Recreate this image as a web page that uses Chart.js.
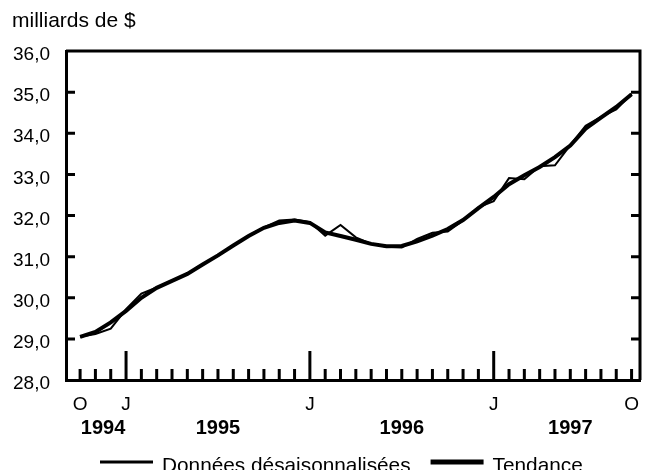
<!DOCTYPE html>
<html>
<head>
<meta charset="utf-8">
<script src="https://cdn.jsdelivr.net/npm/chart.js@4/dist/chart.umd.min.js"></script>
<style>
  html, body { margin: 0; padding: 0; background: #fff; }
  #wrap { width: 645px; height: 470px; }
</style>
</head>
<body>
<div id="wrap"><canvas id="chart" width="645" height="470"></canvas></div>
<script>
// Monthly points, Oct 1994 to Oct 1997
const months = [
  '1994-10','1994-11','1994-12',
  '1995-01','1995-02','1995-03','1995-04','1995-05','1995-06','1995-07','1995-08','1995-09','1995-10','1995-11','1995-12',
  '1996-01','1996-02','1996-03','1996-04','1996-05','1996-06','1996-07','1996-08','1996-09','1996-10','1996-11','1996-12',
  '1997-01','1997-02','1997-03','1997-04','1997-05','1997-06','1997-07','1997-08','1997-09','1997-10'
];
const donnees = [
  29.05, 29.12, 29.25,
  29.72, 30.10, 30.25, 30.42, 30.58, 30.82, 31.02, 31.27, 31.51, 31.71, 31.88, 31.90,
  31.84, 31.51, 31.77, 31.47, 31.31, 31.24, 31.22, 31.43, 31.58, 31.61, 31.88, 32.20,
  32.35, 32.91, 32.88, 33.20, 33.22, 33.71, 34.18, 34.40, 34.58, 34.96
];
const tendance = [
  29.05, 29.17, 29.40,
  29.68, 30.00, 30.24, 30.41, 30.58, 30.81, 31.03, 31.27, 31.50, 31.70, 31.82, 31.88,
  31.82, 31.59, 31.50, 31.41, 31.31, 31.25, 31.26, 31.37, 31.51, 31.67, 31.89, 32.18,
  32.45, 32.76, 32.98, 33.18, 33.42, 33.70, 34.11, 34.38, 34.64, 34.95
];
const tickLabels = ['O', 'J', 'J', 'J', 'O'];
const tickLabelMonths = ['1994-10', '1995-01', '1996-01', '1997-01', '1997-10'];
const years = ['1994', '1995', '1996', '1997'];
const yTicks = [28, 29, 30, 31, 32, 33, 34, 35, 36];

const FONT = "'Liberation Sans', Arial, sans-serif";

// Frame, inner tick marks, year labels, unit title and legend
const decorations = {
    id: 'decorations',
    afterDraw(chart) {
        const ctx = chart.ctx;
        const area = chart.chartArea;
        const xs = chart.scales.x;
        const ys = chart.scales.y;

        ctx.save();
        ctx.strokeStyle = '#000';
        ctx.lineWidth = 3;
        ctx.lineCap = 'butt';

        // top and right frame
        ctx.beginPath();
        ctx.moveTo(area.left, area.top);
        ctx.lineTo(area.right, area.top);
        ctx.lineTo(area.right, area.bottom);
        ctx.stroke();

        // y ticks pointing inward on both sides
        yTicks.slice(1, -1).forEach(v => {
            const py = ys.getPixelForValue(v);
            ctx.beginPath();
            ctx.moveTo(area.left, py);
            ctx.lineTo(area.left + 9, py);
            ctx.moveTo(area.right, py);
            ctx.lineTo(area.right - 9, py);
            ctx.stroke();
        });

        // month ticks, long ones at January
        months.forEach((m, i) => {
            const px = xs.getPixelForValue(i);
            const len = m.endsWith('-01') ? 29 : 11;
            ctx.beginPath();
            ctx.moveTo(px, area.bottom);
            ctx.lineTo(px, area.bottom - len);
            ctx.stroke();
        });

        // year labels centred under their months
        ctx.fillStyle = '#000';
        ctx.font = 'bold 20px ' + FONT;
        ctx.textAlign = 'center';
        ctx.textBaseline = 'middle';
        years.forEach(y => {
            const idx = months.map((m, i) => m.startsWith(y) ? i : -1).filter(i => i >= 0);
            const mid = (idx[0] + idx[idx.length - 1]) / 2 + 0.5;
            ctx.fillText(y, xs.getPixelForValue(mid), 428);
        });

        // unit title
        ctx.font = '21px ' + FONT;
        ctx.textAlign = 'left';
        ctx.textBaseline = 'alphabetic';
        ctx.fillText('milliards de $', 12, 27);

        // legend
        ctx.font = '20.8px ' + FONT;
        let x = 100;
        const ly = 462;
        chart.data.datasets.forEach(ds => {
            ctx.lineWidth = ds.borderWidth + 1;
            ctx.beginPath();
            ctx.moveTo(x, ly);
            ctx.lineTo(x + 53, ly);
            ctx.stroke();
            x += 62;
            ctx.fillText(ds.label, x, 472);
            x += ctx.measureText(ds.label).width + 20;
        });
        ctx.restore();
    }
};

const ctx = document.getElementById('chart').getContext('2d');
new Chart(ctx, {
    type: 'line',
    data: {
        datasets: [{
            label: 'Données désaisonnalisées',
            data: donnees.map((v, i) => ({ x: i, y: v })),
            borderColor: '#000',
            borderWidth: 2,
            pointRadius: 0,
            tension: 0
        }, {
            label: 'Tendance',
            data: tendance.map((v, i) => ({ x: i, y: v })),
            borderColor: '#000',
            borderWidth: 4,
            pointRadius: 0,
            tension: 0
        }]
    },
    options: {
        responsive: false,
        animation: false,
        layout: { padding: { top: 51, right: 5, left: 0, bottom: 0 } },
        plugins: {
            legend: { display: false },
            tooltip: { enabled: false }
        },
        scales: {
            x: {
                type: 'linear',
                min: -0.92,
                max: 36.55,
                afterFit: s => { s.height = 90; s.paddingLeft = 0; s.paddingRight = 0; },
                afterBuildTicks: s => { s.ticks = months.map((m, i) => ({ value: i })); },
                grid: { display: false, drawTicks: false },
                border: { display: true, color: '#000', width: 3 },
                ticks: {
                    autoSkip: false,
                    maxRotation: 0,
                    padding: 13,
                    color: '#000',
                    font: { family: FONT, size: 19 },
                    callback: (v) => {
                        const k = tickLabelMonths.indexOf(months[v]);
                        return k >= 0 ? tickLabels[k] : '';
                    }
                }
            },
            y: {
                min: yTicks[0],
                max: yTicks[yTicks.length - 1],
                afterFit: s => { s.width = 66; s.paddingTop = 0; s.paddingBottom = 0; },
                afterBuildTicks: s => { s.ticks = yTicks.map(v => ({ value: v })); },
                grid: { display: false, drawTicks: false },
                border: { display: true, color: '#000', width: 3 },
                ticks: {
                    padding: 16,
                    labelOffset: 4,
                    color: '#000',
                    font: { family: FONT, size: 19 },
                    callback: v => v.toFixed(1).replace('.', ',')
                }
            }
        }
    },
    plugins: [decorations]
});
</script>
</body>
</html>
